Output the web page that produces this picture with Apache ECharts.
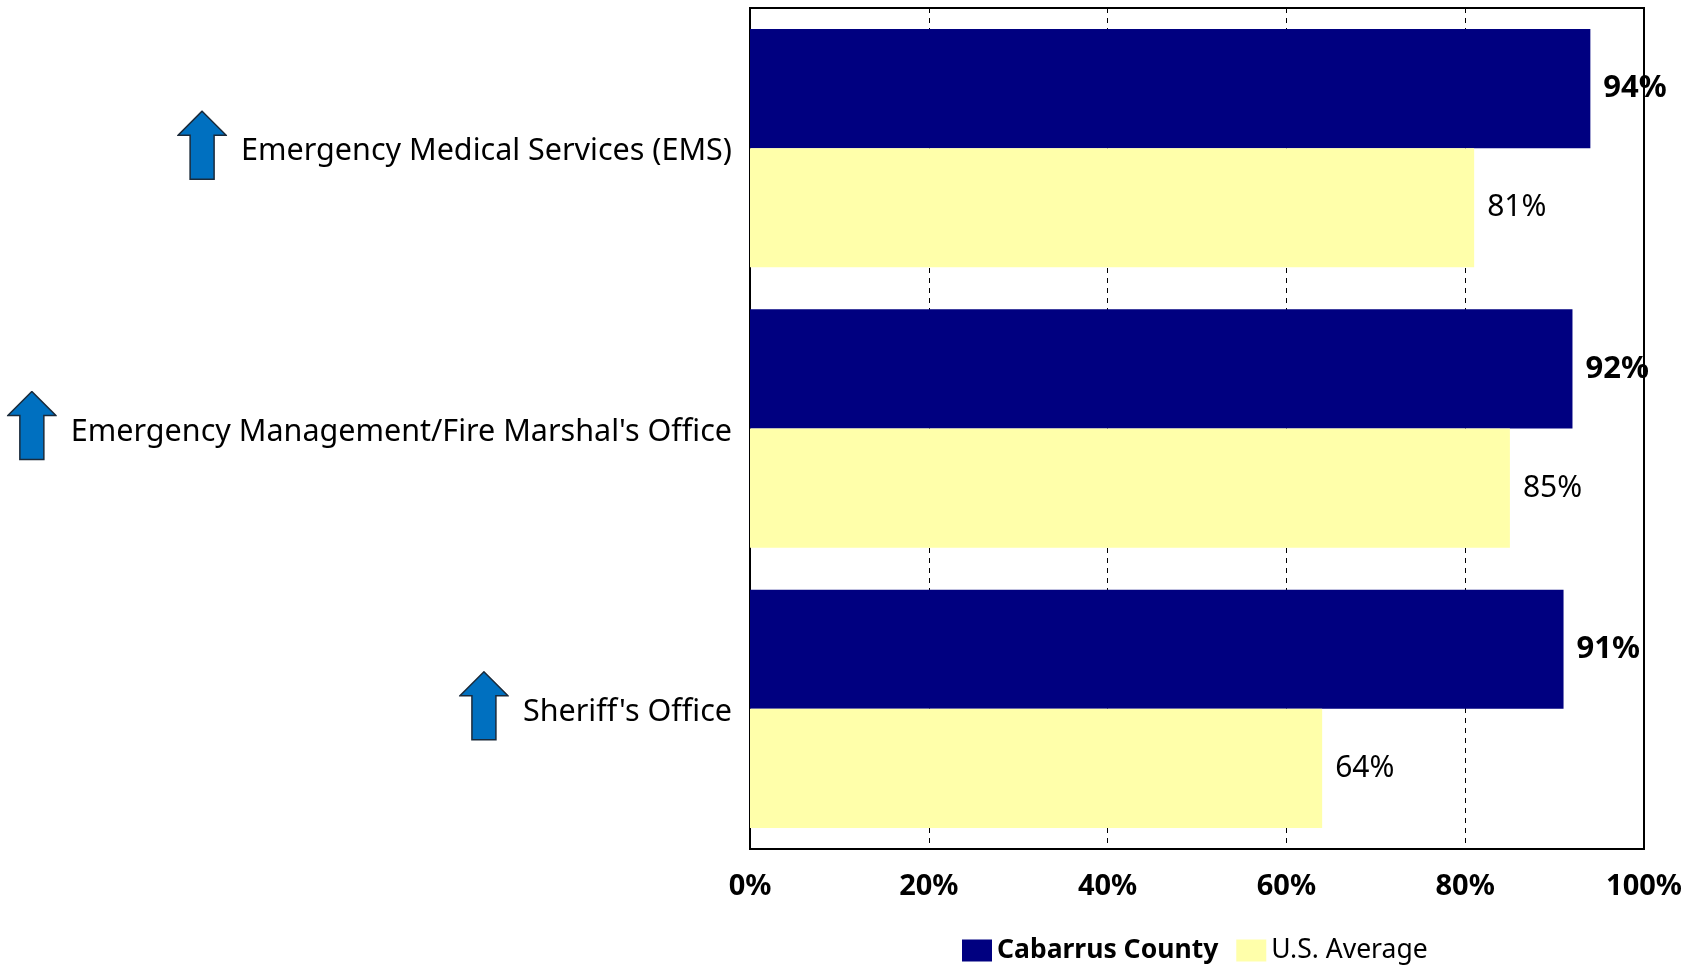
<!DOCTYPE html>
<html>
<head>
<meta charset="utf-8">
<script src="https://cdn.jsdelivr.net/npm/echarts@6/dist/echarts.min.js"></script>
<style>
html,body{margin:0;padding:0;background:#fff;}
#chart{width:1688px;height:966px;}
</style>
</head>
<body>
<div id="chart"></div>
<script>
const categories = ["Emergency Medical Services (EMS)", "Emergency Management/Fire Marshal's Office", "Sheriff's Office"];
const seriesNames = ["Cabarrus County", "U.S. Average"];
const cabarrusValues = [94, 92, 91];
const usAverageValues = [81, 85, 64];
const xTicks = [0, 20, 40, 60, 80, 100];

const FONT = "'Noto Sans', sans-serif";
const arrowSvg = '<svg xmlns="http://www.w3.org/2000/svg" width="50" height="76" viewBox="0 0 50 76">' +
  '<polygon points="25,1 49,25 37,25 37,69 13,69 13,25 1,25" fill="#0070C0" stroke="#1a2a3a" stroke-width="1.5" stroke-linejoin="miter"/></svg>';
const arrowImg = 'data:image/svg+xml;charset=utf-8,' + encodeURIComponent(arrowSvg);

const chart = echarts.init(document.getElementById('chart'), null, {renderer: 'canvas'});
chart.setOption({
  animation: false,
  backgroundColor: '#fff',
  grid: {
    left: 750, right: 44, top: 8, bottom: 117,
    show: true, borderColor: '#000', borderWidth: 2, backgroundColor: 'transparent',
    containLabel: false
  },
  legend: {
    data: seriesNames,
    left: 957, top: 932,
    itemWidth: 30, itemHeight: 22, itemGap: 18,
    icon: 'rect',
    formatter: function (name) {
      return name === seriesNames[0] ? '{b|' + name + '}' : '{n|' + name + '}';
    },
    textStyle: {
      color: '#000', fontFamily: FONT, fontSize: 26.5, padding: [0, 0, 0, 0],
      rich: {
        b: {fontWeight: 'bold', fontSize: 26.5, fontFamily: FONT, color: '#000'},
        n: {fontWeight: 'normal', fontSize: 26.5, fontFamily: FONT, color: '#000'}
      }
    }
  },
  xAxis: {
    type: 'value', min: 0, max: 100, interval: 20,
    axisLine: {show: false}, axisTick: {show: false},
    splitLine: {show: true, lineStyle: {color: '#000', width: 1, type: [5, 5]}},
    axisLabel: {
      formatter: function (v) { return xTicks.indexOf(v) >= 0 ? v + '%' : ''; },
      color: '#000', fontFamily: FONT, fontWeight: 'bold', fontSize: 29, margin: 23
    }
  },
  yAxis: {
    type: 'category', data: categories, inverse: true,
    axisLine: {show: false}, axisTick: {show: false}, splitLine: {show: false},
    axisLabel: {
      margin: 18,
      formatter: function (v) { return '{a|}{g|}{t|' + v + '}'; },
      rich: {
        a: {width: 50, height: 76, backgroundColor: {image: arrowImg}, verticalAlign: 'middle'},
        g: {width: 14, height: 10, verticalAlign: 'middle'},
        t: {fontSize: 30.5, fontFamily: FONT, color: '#000', verticalAlign: 'middle', padding: [7, 0, 0, 0]}
      }
    }
  },
  series: [
    {
      name: seriesNames[0], type: 'bar', data: cabarrusValues,
      barGap: '0%', barCategoryGap: '15%',
      itemStyle: {color: '#000080'},
      label: {show: true, position: 'right', distance: 13, formatter: '{c}%',
        color: '#000', fontFamily: FONT, fontWeight: 'bold', fontSize: 31, padding: [4, 0, 0, 0]}
    },
    {
      name: seriesNames[1], type: 'bar', data: usAverageValues,
      barGap: '0%', barCategoryGap: '15%',
      itemStyle: {color: '#FFFFAA'},
      label: {show: true, position: 'right', distance: 13, formatter: '{c}%',
        color: '#000', fontFamily: FONT, fontWeight: 'normal', fontSize: 30, padding: [4, 0, 0, 0]}
    }
  ]
});
</script>
</body>
</html>
